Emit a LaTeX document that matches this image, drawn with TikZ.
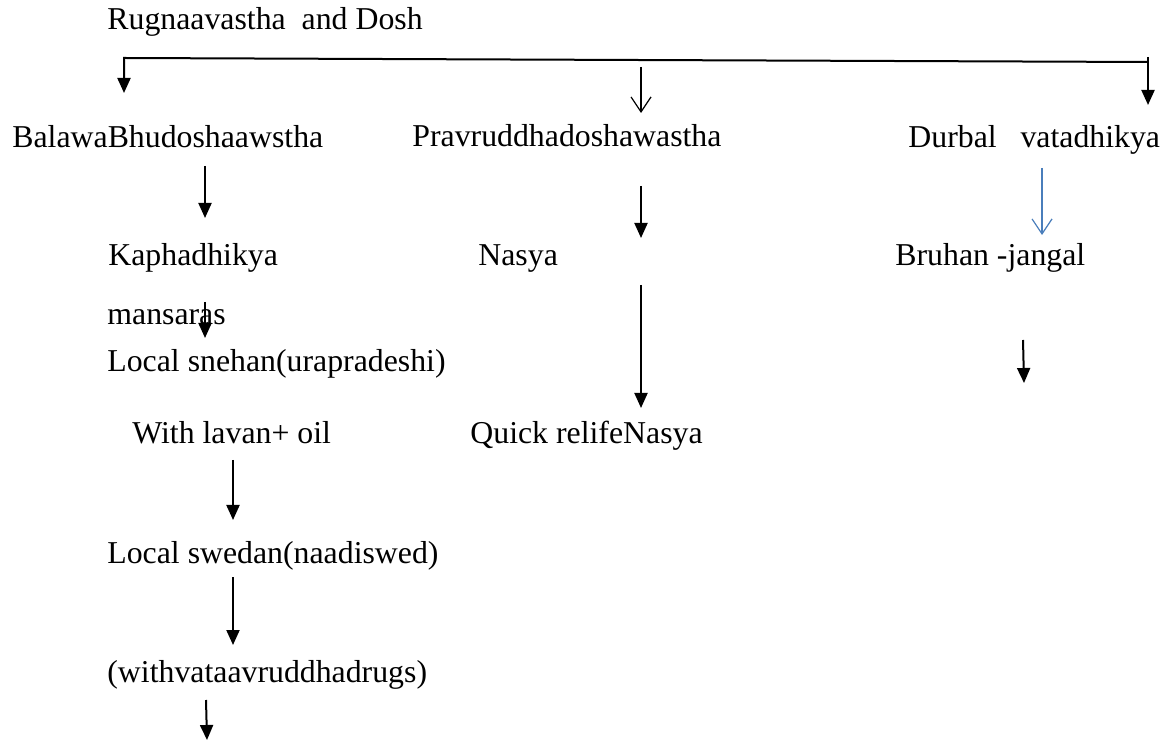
\documentclass[tikz,border=0pt]{standalone}
\usepackage{fontspec}
\setmainfont{Liberation Serif}
\usetikzlibrary{arrows.meta}
\definecolor{wordblue}{RGB}{74,126,187}
\tikzset{
  lbl/.style={anchor=base west, inner sep=0pt, font=\fontsize{15.9}{18}\selectfont},
  arr/.style={line width=1pt, -{Triangle[length=7.5pt,width=6.5pt]}},
  openarr/.style={line width=0.6pt, -{Straight Barb[length=7.5pt,width=10pt]}},
}
\begin{document}
\begin{tikzpicture}[x=0.5pt, y=-0.5pt]
\useasboundingbox (0,0) rectangle (1165,747);
% texts
\node[lbl] (title) at (107,30) {Rugnaavastha\ \ and Dosh};
\node[lbl] (balawa) at (12,148) {BalawaBhudoshaawstha};
\node[lbl] (pravru) at (412,147) {Pravruddhadoshawastha};
\node[lbl] (durbal) at (908,148) {Durbal\ \ \ vatadhikya};
\node[lbl] (kapha) at (108,266) {Kaphadhikya};
\node[lbl] (nasya) at (478,266) {Nasya};
\node[lbl] (bruhan) at (895,266) {Bruhan -jangal};
\node[lbl] (mansaras) at (107,325) {mansaras};
\node[lbl] (snehan) at (107,372) {Local snehan(urapradeshi)};
\node[lbl] (lavan) at (132,444) {With lavan+ oil};
\node[lbl] (quick) at (470,444) {Quick relifeNasya};
\node[lbl] (swedan) at (107,563) {Local swedan(naadiswed)};
\node[lbl] (withvata) at (107,682) {(withvataavruddhadrugs)};
% arrow ends
\coordinate (brL) at (124,58);
\coordinate (brLtip) at (124,93);
\coordinate (brR) at (1148,62);
\coordinate (brRtop) at (1148,57);
\coordinate (brRtip) at (1148,105);
\coordinate (midtop) at (641,67);
\coordinate (midtip) at (641,113);
\coordinate (a1) at (205,166);  \coordinate (a1tip) at (205,218);
\coordinate (a2) at (205,302);  \coordinate (a2tip) at (205,338);
\coordinate (a3) at (233,460);  \coordinate (a3tip) at (233,520);
\coordinate (a4) at (233,577);  \coordinate (a4tip) at (233,645);
\coordinate (a5) at (206,700);  \coordinate (a5tip) at (207,740);
\coordinate (b1) at (641,186);  \coordinate (b1tip) at (641,238);
\coordinate (b2) at (641,285);  \coordinate (b2tip) at (641,408);
\coordinate (c1) at (1042,168); \coordinate (c1tip) at (1042,235);
\coordinate (c2) at (1023,340); \coordinate (c2tip) at (1024,383);
% bracket
\draw[arr] (brR) -- (brL) -- (brLtip);
\draw[arr] (brRtop) -- (brRtip);
\draw[openarr] (midtop) -- (midtip);
% left column
\draw[arr] (a1) -- (a1tip);
\draw[arr] (a2) -- (a2tip);
\draw[arr] (a3) -- (a3tip);
\draw[arr] (a4) -- (a4tip);
\draw[arr] (a5) -- (a5tip);
% middle column
\draw[arr] (b1) -- (b1tip);
\draw[arr] (b2) -- (b2tip);
% right column
\draw[openarr, wordblue] (c1) -- (c1tip);
\draw[arr] (c2) -- (c2tip);
\end{tikzpicture}
\end{document}
